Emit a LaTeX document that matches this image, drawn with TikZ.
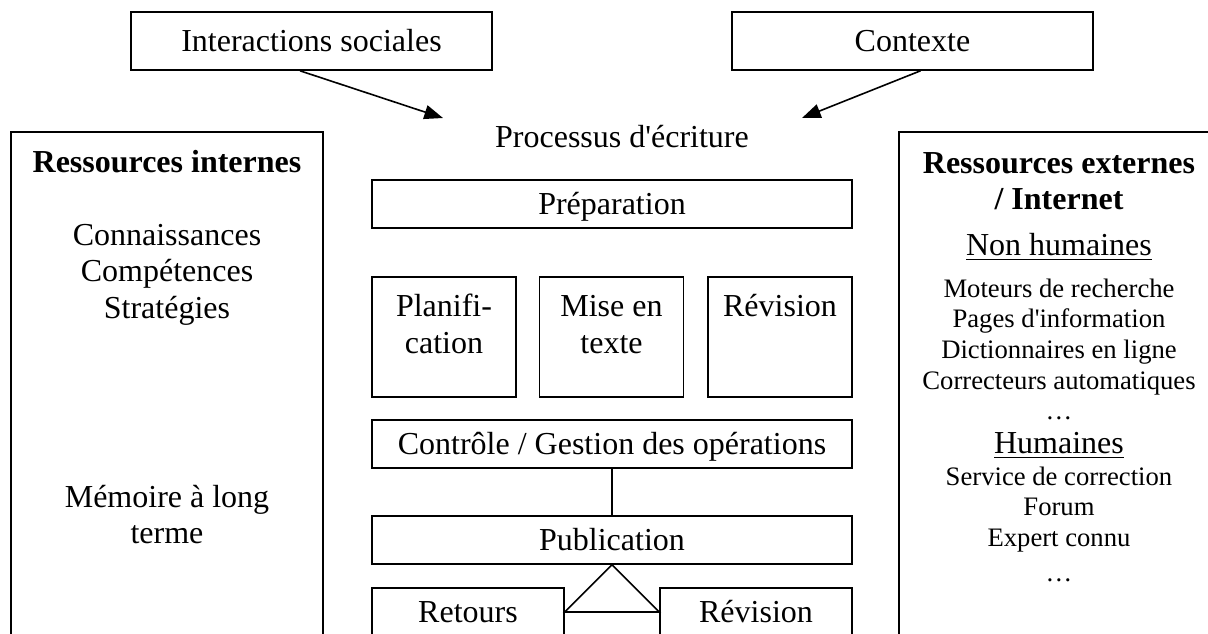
\documentclass[tikz,border=0pt]{standalone}
\usepackage{fontspec}
\setmainfont{Liberation Serif}
\usepackage{tikz}
\usetikzlibrary{arrows.meta}

\tikzset{
  box/.style={draw, inner sep=0pt, text height=10pt, text depth=2pt},
  cell/.style={draw, anchor=north, text width=46pt, align=flush center, inner xsep=4pt, inner ysep=4pt, text height=11pt, text depth=26pt},
  panel/.style={draw, inner sep=0pt, minimum height=213pt},
  lines/.style={anchor=base, text width=114pt, align=flush center},
  small/.style={font=\fontsize{10}{11.5}\selectfont},
  arr/.style={-{Triangle[length=7pt,width=5.3pt]}},
}

\begin{document}
\begin{tikzpicture}[x=0.375pt, y=-0.375pt, line width=0.6pt, font=\fontsize{12}{13.8}\selectfont]
  \path[use as bounding box, clip] (0,0) rectangle (1208,633);
  % influences
  \node[box, minimum width=135.5pt, minimum height=21.75pt] (soc) at (311.5,41) {Interactions sociales};
  \node[box, minimum width=135.5pt, minimum height=21.75pt] (ctx) at (912.5,41) {Contexte};
  \node[anchor=base] (proc) at (622,147) {Processus d\textquotesingle écriture};
  \coordinate (socin) at (443,118);
  \coordinate (ctxin) at (802,118);
  \draw[arr] ([xshift=-4.3pt]soc.south) -- (socin);
  \draw[arr] ([xshift=3pt]ctx.south) -- (ctxin);

  % ressources
  \node[panel, minimum width=117pt] (intern) at (167,416) {};
  \node[panel, minimum width=120pt] (extern) at (1059,416) {};
  \node[anchor=base] (intitle) at (167,172) {\bfseries Ressources internes};
  \node[lines] (know) at (167,245) {Connaissances\\Compétences\\Stratégies};
  \node[lines] (mem) at (167,507) {Mémoire à long\\terme};
  \node[lines] (extitle) at (1059,173) {\bfseries Ressources externes\\/ Internet};
  \node[anchor=base] (nonhum) at (1059,255) {\underline{Non humaines}};
  \node[lines, small] (tools) at (1059,297) {Moteurs de recherche\\Pages d\textquotesingle information\\Dictionnaires en ligne\\Correcteurs automatiques\\…};
  \node[anchor=base] (hum) at (1059,453) {\underline{Humaines}};
  \node[lines, small] (people) at (1059,485) {Service de correction\\Forum\\Expert connu\\[1.5pt]…};

  % processus
  \node[box, minimum width=180pt, minimum height=18pt] (prep) at (612,204) {Préparation};
  \foreach \n/\x/\t in {plan/444/{Planifi-\\cation}, mise/611.5/{Mise en\\texte}, rev/780/{Révision}}
    \node[cell] (\n) at (\x,276) {\t};
  \node[box, minimum width=180pt, minimum height=18pt] (ctrl) at (612,444) {Contrôle / Gestion des opérations};
  \node[box, minimum width=180pt, minimum height=18pt] (pub) at (612,540) {Publication};
  \node[box, minimum width=72pt, minimum height=18pt] (ret) at (468,612) {Retours};
  \node[box, minimum width=72pt, minimum height=18pt] (rev2) at (756,612) {Révision};
  \draw (ctrl) -- (pub);
  \draw (pub.south) -- (ret.east) -- (rev2.west) -- cycle;
\end{tikzpicture}
\end{document}
